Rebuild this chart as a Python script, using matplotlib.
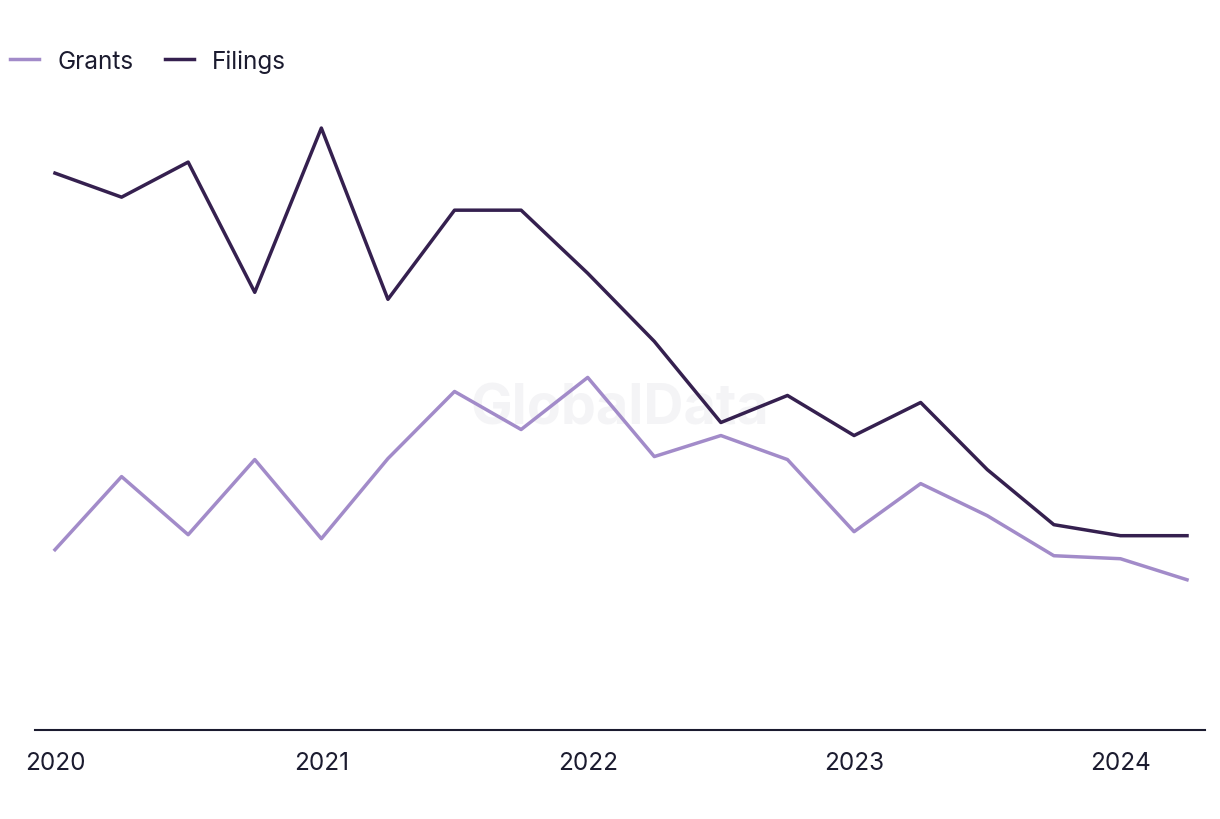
import numpy as np
import matplotlib.pyplot as plt

plt.rcParams['font.family'] = ['Inter', 'DejaVu Sans']

# quarterly values, 2020 Q1 .. 2024 Q2
quarters = ['Q1 2020', 'Q2 2020', 'Q3 2020', 'Q4 2020',
            'Q1 2021', 'Q2 2021', 'Q3 2021', 'Q4 2021',
            'Q1 2022', 'Q2 2022', 'Q3 2022', 'Q4 2022',
            'Q1 2023', 'Q2 2023', 'Q3 2023', 'Q4 2023',
            'Q1 2024', 'Q2 2024']
filings = [55.6, 53.2, 56.7, 43.7, 60.1, 43.0, 51.9, 51.9, 45.6,
           38.8, 30.7, 33.4, 29.4, 32.7, 26.0, 20.5, 19.4, 19.4]
grants = [18.0, 25.3, 19.5, 27.0, 19.1, 27.1, 33.8, 30.0, 35.2,
          27.3, 29.4, 27.0, 19.8, 24.6, 21.4, 17.4, 17.1, 15.0]
year_ticks = [0, 4, 8, 12, 16]
year_labels = ['2020', '2021', '2022', '2023', '2024']

grant_col = '#a28bc9'
filing_col = '#35204f'
text_col = '#1b1b2f'

fig = plt.figure(figsize=(12.2, 8.2), dpi=100)
ax = fig.add_axes([35/1220, 1 - 731/820, 1170/1220, 631/820])

x = np.arange(len(quarters))
ax.plot(x, grants, color=grant_col, lw=2.5, label='Grants')
ax.plot(x, filings, color=filing_col, lw=2.5, label='Filings')

ax.set_xlim(-0.3, 17.27)
ax.set_ylim(0, 63)
ax.set_xticks(year_ticks)
ax.set_xticklabels(year_labels)
ax.set_yticks([])
ax.tick_params(axis='x', length=0, pad=15, labelsize=17.5, colors=text_col)
for side in ['top', 'right', 'left']:
    ax.spines[side].set_visible(False)
ax.spines['bottom'].set_color(text_col)
ax.spines['bottom'].set_linewidth(1.5)

# faint watermark
ax.text(0.5, 0.51, 'GlobalData', transform=ax.transAxes, ha='center', va='center',
        fontsize=40, fontweight='bold', color='#f4f4f6', zorder=0)

fig.legend(loc='center left', bbox_to_anchor=(0.0, 1 - 62/820), ncol=2, frameon=False,
           fontsize=17.5, labelcolor=text_col, handlelength=1.2, handletextpad=0.75,
           columnspacing=1.3, borderaxespad=0)

fig.savefig('out.png', dpi=100)
